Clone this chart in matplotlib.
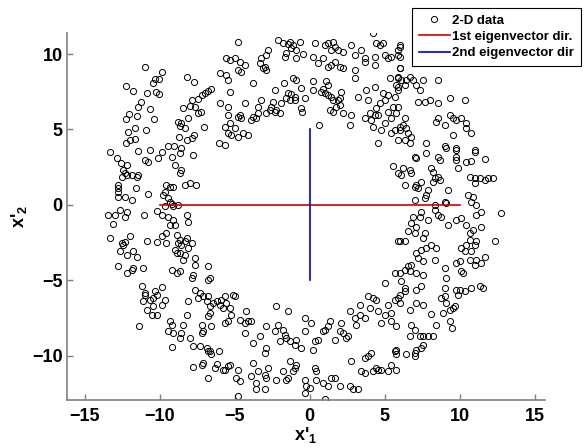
import numpy as np
import matplotlib
matplotlib.use("Agg")
import matplotlib.pyplot as plt

plt.rcParams['font.family'] = ['Liberation Sans', 'DejaVu Sans']
plt.rcParams['mathtext.fontset'] = 'custom'
plt.rcParams['mathtext.bf'] = 'Liberation Sans:bold'
plt.rcParams['mathtext.rm'] = 'Liberation Sans:bold'

# 2-D data points (x'1, x'2)
top_left = [
    (-11.0, 9.12), (-9.89, 8.79), (-10.33, 8.35), (-10.04, 8.37), (-10.44, 8.06), (-12.29, 7.88),
    (-11.78, 7.55), (-10.87, 7.44), (-10.27, 7.51), (-10.04, 7.33), (-11.29, 6.85), (-11.44, 6.47),
    (-10.67, 6.34), (-12.07, 6.03), (-11.56, 5.9), (-12.29, 5.68), (-10.42, 5.68), (-11.67, 5.08),
    (-10.96, 4.97), (-12.16, 4.86), (-12.29, 4.09), (-12.0, 4.31), (-11.67, 4.35),
    (-8.18, 8.48), (-7.73, 8.17), (-6.56, 7.66), (-6.78, 7.58), (-7.0, 7.4), (-7.22, 7.29),
    (-7.89, 6.96), (-7.44, 7.0), (-8.44, 6.4), (-8.0, 6.56), (-7.67, 6.52), (-7.29, 6.18),
    (-7.49, 6.08), (-8.11, 5.74), (-8.78, 5.52), (-8.56, 5.41), (-8.67, 5.24), (-8.33, 5.08),
    (-7.07, 5.19), (-8.73, 4.53), (-8.16, 4.31), (-7.71, 4.64), (-7.89, 4.42), (-9.44, 3.87),
    (-9.04, 3.87), (-8.62, 3.76),
    (-5.62, 9.72), (-5.96, 8.72), (-5.56, 8.61), (-5.44, 8.28), (-5.33, 7.51), (-5.96, 6.74),
    (-5.44, 6.52), (-5.44, 5.96), (-5.67, 5.19), (-5.44, 4.75), (-6.07, 4.13), (-5.67, 3.98),
]

top_mid = [
    (-4.78, 10.82), (-2.11, 10.93), (-1.78, 10.71), (-1.34, 10.82), (-1.11, 10.6), (-0.67, 10.82),
    (-0.89, 10.27), (-1.56, 10.05), (-1.67, 9.83), (-0.89, 9.72), (-0.45, 10.0), (-1.23, 10.38),
    (-1.45, 10.67), (-2.78, 10.27), (-2.89, 9.94), (-3.23, 9.72), (-3.34, 9.39), (-3.0, 9.17),
    (-2.89, 8.94), (-3.11, 9.05), (-4.34, 9.28), (-4.67, 9.5), (-5.0, 9.72), (-5.34, 9.61),
    (-4.78, 8.94), (-4.56, 8.83), (0.33, 10.71), (1.0, 10.6), (1.22, 10.71), (1.55, 10.82),
    (1.66, 10.49), (2.22, 10.16), (1.89, 10.27), (1.44, 10.27), (0.22, 9.83), (0.89, 9.72),
    (0.55, 9.39), (1.66, 9.5), (1.44, 9.28), (2.0, 9.17), (2.22, 9.05), (1.22, 9.17),
    (2.77, 10.6), (3.44, 10.27), (3.0, 9.94), (3.66, 9.72), (3.66, 9.5), (4.22, 11.37),
    (4.44, 10.71), (4.66, 10.6), (4.88, 10.71), (4.33, 9.83), (4.33, 9.28), (5.0, 9.94),
    (5.22, 9.72), (5.44, 9.83), (5.89, 9.94), (6.0, 10.49), (5.33, 8.39), (5.89, 8.39),
    (6.0, 9.05), (5.77, 7.95), (3.0, 8.94), (3.0, 8.39),
    (-3.78, 8.11), (-2.34, 7.62), (-1.71, 8.11), (-1.11, 8.39), (-0.89, 8.28), (-0.6, 7.73),
    (0.22, 8.22), (1.11, 8.24), (1.22, 7.95), (0.89, 7.66), (0.77, 7.51), (1.0, 7.4),
    (1.22, 7.29), (1.44, 7.18), (1.55, 6.96), (1.89, 6.96), (2.0, 6.63), (1.77, 6.52),
    (2.11, 7.51), (2.0, 7.07), (2.22, 6.08), (1.55, 6.19), (1.33, 6.3), (-0.56, 6.41),
    (-0.49, 6.19), (-0.96, 7.18), (-1.0, 6.96), (-1.34, 6.96), (-1.23, 7.33), (-1.45, 7.4),
    (-1.56, 7.07), (-1.89, 6.74), (-2.0, 6.08), (-2.23, 6.3), (-2.45, 6.85), (-2.56, 6.52),
    (-2.67, 6.3), (-2.34, 6.19), (-2.89, 6.08), (-3.23, 6.96), (-3.45, 6.52), (-3.45, 6.08),
    (-3.56, 5.74), (-3.78, 5.85), (-3.89, 5.63), (-4.34, 6.74), (-4.67, 5.96), (-4.56, 5.74),
    (-4.78, 5.85), (-5.0, 5.08), (-5.34, 5.41), (-4.78, 4.53), (-4.45, 4.75), (-4.12, 4.64),
    (-5.23, 4.64), (-0.29, 7.11), (0.22, 7.62), (0.62, 5.28), (2.77, 5.96), (2.66, 5.3),
    (3.22, 7.18), (3.77, 7.62), (3.88, 6.96), (4.0, 6.08), (3.66, 5.74), (4.11, 5.63),
    (4.33, 5.96), (4.22, 5.19), (4.44, 6.41), (4.66, 6.74), (4.55, 5.96), (4.77, 4.97),
    (5.0, 5.41), (5.22, 6.19), (5.44, 5.74), (5.55, 6.52), (5.0, 6.96), (5.66, 4.97),
    (5.44, 4.75), (5.89, 4.31), (6.0, 5.19), (4.55, 4.09), (5.22, 7.29), (4.88, 7.4),
    (4.33, 7.84), (5.66, 7.18), (5.89, 7.62),
]

top_right = [
    (6.0, 10.6), (5.89, 10.27), (6.0, 9.83), (6.0, 9.05), (5.89, 8.5), (6.11, 8.28),
    (6.45, 8.28), (6.67, 8.5), (6.89, 8.28), (7.11, 7.95), (7.56, 8.28), (8.56, 8.28),
    (7.34, 7.62), (5.89, 7.84), (6.34, 7.95), (7.23, 6.85), (7.67, 6.85), (8.0, 6.96),
    (8.56, 6.74), (9.34, 7.07), (10.34, 6.96), (5.89, 6.52), (5.78, 6.08), (6.34, 5.74),
    (6.23, 5.3), (6.45, 5.08), (6.0, 4.97), (6.56, 4.75), (6.78, 4.53), (6.34, 4.31),
    (6.67, 4.09), (7.78, 4.09), (8.56, 5.74), (8.45, 5.52), (9.0, 5.3), (9.34, 5.96),
    (9.56, 5.74), (9.78, 5.63), (10.11, 5.74), (10.45, 5.41), (10.45, 5.08), (10.78, 4.75),
    (9.56, 4.64), (9.0, 3.87), (9.78, 3.76), (11.0, 3.65),
]

mid_left = [
    (-13.33, 3.53), (-12.89, 3.09), (-12.6, 2.76), (-12.22, 2.65), (-12.44, 2.31), (-12.33, 2.09),
    (-12.56, 1.87), (-12.22, 1.98), (-11.89, 1.98), (-11.44, 1.98), (-11.56, 1.87), (-12.78, 1.32),
    (-12.78, 1.1), (-12.82, 0.88), (-12.78, 0.55), (-12.33, 0.55), (-11.89, 0.33), (-11.62, 1.14),
    (-11.44, 3.57), (-10.67, 3.64), (-11.0, 2.98), (-10.78, 2.87), (-10.11, 3.09), (-9.89, 3.48),
    (-9.22, 3.2), (-8.67, 3.42), (-9.0, 2.65), (-8.56, 2.31), (-8.67, 2.09), (-7.78, 3.31),
    (-8.33, 1.32), (-8.0, 1.48), (-7.56, 1.32), (-10.78, 0.7), (-9.56, 1.32), (-9.33, 1.21),
    (-9.11, 1.21), (-9.67, 0.88), (-9.78, 0.66), (-9.44, 0.44), (-9.33, 0.22), (-9.22, 0.04),
    (-9.67, -0.11), (-9.11, -0.11), (-8.78, 0.0), (-10.22, -0.4), (-9.89, -0.67), (-9.44, -0.84),
    (-9.11, -1.0), (-9.33, -1.33), (-9.0, -1.33), (-8.22, -0.67), (-8.11, -1.11), (-11.04, -0.67),
    (-13.44, -0.67), (-13.0, -0.67), (-13.11, -1.26), (-12.67, -0.33), (-12.22, -0.45), (-12.33, -0.78),
    (-13.33, -2.21), (-12.56, -2.54), (-12.44, -2.65), (-12.33, -2.48), (-12.0, -2.1), (-12.67, -3.05),
    (-12.22, -3.31), (-11.78, -3.09), (-11.56, -3.43), (-12.78, -4.09), (-12.22, -4.53), (-11.89, -4.31),
    (-11.78, -4.2), (-11.11, -4.2), (-10.89, -2.43), (-10.22, -2.5), (-9.89, -2.1), (-9.56, -1.88),
    (-9.56, -2.54), (-8.89, -1.99), (-8.67, -2.32), (-8.78, -2.54), (-8.56, -2.65), (-8.33, -2.43),
    (-8.22, -2.21), (-7.89, -2.54), (-9.0, -2.98), (-8.89, -3.2), (-8.67, -3.2), (-8.44, -3.65),
    (-8.33, -3.31), (-8.11, -2.87), (-7.67, -3.53), (-7.67, -3.98), (-7.78, -4.64), (-7.84, -4.86),
    (-8.67, -4.42), (-8.89, -4.53), (-9.22, -4.31), (-6.78, -4.09), (-6.78, -4.97), (-6.67, -4.86),
    (-7.67, -5.63), (-7.33, -5.85), (-11.22, -5.37), (-11.0, -5.85), (-9.89, -5.48), (-10.33, -5.74),
]

mid_right = [
    (5.55, 2.6), (5.89, 2.09), (5.89, -2.43), (5.66, -4.53), (5.04, -5.19),
    (7.0, 3.2), (7.11, 3.09), (7.78, 3.42), (8.56, 3.2), (8.67, 2.98), (9.11, 3.75),
    (9.78, 3.64), (9.78, 3.2), (9.78, 2.98), (9.89, 2.42), (11.0, 3.53), (10.45, 2.87),
    (10.78, 2.91), (11.67, 3.04), (6.23, 2.42), (6.67, 2.31), (6.11, 1.98), (6.78, 2.09),
    (6.34, 1.32), (7.0, 1.21), (7.23, 1.1), (7.11, 1.32), (7.45, 1.54), (8.11, 2.42),
    (8.23, 2.2), (8.34, 1.76), (8.23, 1.54), (8.56, 1.87), (8.67, 1.65), (7.89, 0.99),
    (7.78, 0.66), (7.67, 0.44), (7.0, 0.33), (9.0, 0.22), (9.11, 0.11), (8.34, 0.0),
    (9.23, 0.99), (10.56, 0.66), (10.89, 0.55), (10.78, 0.22), (11.11, 0.0), (11.11, -0.67),
    (11.45, -0.45), (10.67, 1.87), (11.0, 1.76), (11.0, 1.43), (11.34, 1.76), (11.67, 1.65),
    (11.89, 1.76), (12.23, 1.76), (12.78, -0.56), (6.89, -0.78), (7.45, -0.45), (7.34, -0.78),
    (7.89, -1.0), (8.34, -0.33), (8.56, -0.67), (8.78, -0.78), (9.23, -1.33), (9.78, -1.0),
    (10.11, -0.89), (10.45, -1.33), (10.89, -1.66), (10.67, -1.88), (11.45, -1.44), (11.11, -2.43),
    (10.67, -2.32), (11.0, -2.65), (10.11, -2.87), (10.45, -2.65), (10.34, -3.09), (10.78, -3.09),
    (11.11, -3.65), (10.67, -3.65), (11.67, -3.43), (11.45, -3.87), (11.0, -3.98), (10.0, -3.76),
    (9.78, -3.87), (12.34, -2.43), (6.78, -1.22), (7.11, -1.44), (7.0, -1.88), (6.56, -1.77),
    (6.34, -2.43), (6.0, -2.43), (7.67, -1.88), (7.56, -2.21), (8.11, -2.65), (8.45, -2.87),
    (7.78, -2.87), (7.45, -2.98), (7.11, -3.2), (7.23, -3.53), (7.56, -3.76), (8.34, -3.65),
    (9.0, -4.2), (9.11, -4.86), (6.78, -3.98), (6.56, -4.09), (6.34, -4.31), (6.0, -4.53),
    (6.67, -4.42), (7.11, -4.53), (7.56, -4.64), (6.34, -5.52), (7.11, -5.63), (7.45, -5.41),
    (9.0, -5.52), (9.78, -5.63), (10.0, -5.63), (10.78, -5.52), (11.34, -5.41), (11.56, -5.52),
    (10.11, -4.42), (10.23, -4.53), (6.11, -5.08),
]

bottom_left = [
    (-11.0, -5.96), (-11.11, -6.4), (-10.67, -6.29), (-10.44, -6.18), (-10.22, -5.96), (-10.44, -6.73),
    (-10.89, -6.95), (-10.56, -7.29), (-10.22, -7.29), (-9.89, -6.62), (-9.67, -6.34), (-11.4, -8.01),
    (-9.33, -7.73), (-9.22, -7.95), (-9.44, -8.39), (-9.11, -8.5), (-8.56, -8.5), (-8.67, -8.83),
    (-8.44, -7.95), (-8.22, -7.29), (-8.11, -6.4), (-7.44, -6.18), (-7.11, -6.07), (-6.78, -6.07),
    (-6.89, -6.4), (-6.67, -6.73), (-6.67, -7.18), (-6.78, -7.4), (-6.44, -6.51), (-6.22, -6.4),
    (-6.0, -6.62), (-5.89, -6.29), (-5.78, -6.84), (-5.56, -6.51), (-5.67, -7.84), (-5.44, -7.73),
    (-7.22, -7.95), (-7.11, -8.39), (-7.22, -8.5), (-6.56, -8.01), (-8.0, -8.83), (-7.78, -9.38),
    (-7.33, -9.38), (-6.89, -9.49), (-6.78, -9.71), (-6.67, -9.71), (-6.56, -9.93), (-6.07, -9.67),
    (-9.16, -9.43), (-7.78, -10.75), (-7.22, -10.6), (-7.11, -10.49), (-6.78, -11.48), (-6.33, -10.82),
    (-6.22, -10.53), (-5.78, -10.93), (-5.67, -10.97), (-5.44, -10.71),
]

bottom_mid = [
    (-5.67, -6.07), (-5.34, -6.84), (-5.11, -5.96), (-5.0, -6.07), (-5.23, -7.29), (-4.67, -7.62),
    (-4.34, -7.84), (-4.12, -7.73), (-4.23, -7.07), (-3.89, -7.73), (-4.34, -8.5), (-2.23, -6.73),
    (-1.45, -7.07), (-0.34, -7.51), (0.11, -7.84), (-2.89, -8.06), (-3.34, -8.72), (-3.78, -9.16),
    (-2.34, -8.39), (-2.11, -7.95), (-1.78, -8.28), (-1.67, -8.61), (-1.56, -8.83), (-2.0, -9.05),
    (-1.34, -9.05), (-0.89, -8.94), (-1.0, -9.27), (-0.56, -9.49), (-2.89, -9.49), (-3.0, -9.82),
    (-0.34, -8.39), (0.22, -9.6), (0.33, -9.05), (0.55, -8.94), (0.89, -8.39), (1.0, -8.28),
    (1.33, -7.73), (1.22, -8.06), (1.66, -8.94), (2.0, -8.39), (2.22, -8.5), (2.44, -8.83),
    (2.55, -8.72), (2.11, -7.84), (2.66, -7.07), (3.0, -7.51), (3.11, -7.95), (3.33, -7.29),
    (3.33, -6.62), (3.66, -7.51), (3.88, -6.07), (4.22, -6.18), (4.44, -6.29), (4.0, -6.84),
    (4.55, -7.07), (4.77, -7.84), (5.0, -7.29), (5.44, -7.18), (5.44, -7.73), (5.22, -6.62),
    (5.66, -6.29), (6.0, -5.96), (5.66, -9.71), (4.11, -9.82), (3.88, -10.04), (3.66, -10.16),
    (2.77, -10.38), (3.44, -11.04), (3.66, -11.15), (4.22, -11.04), (4.44, -10.82), (4.55, -10.93),
    (4.77, -10.93), (5.22, -11.04), (5.44, -10.6), (5.77, -10.93),
    (-5.34, -10.6), (-4.78, -10.93), (-4.89, -11.48), (-4.67, -11.7), (-3.78, -10.49), (-3.56, -11.81),
    (-3.45, -11.04), (-3.89, -11.37), (-3.0, -11.26), (-2.89, -11.48), (-2.78, -10.82), (-2.23, -11.59),
    (-1.78, -11.04), (-1.56, -11.59), (-1.45, -11.48), (-1.34, -10.38), (-1.0, -10.82), (-0.89, -10.6),
    (-1.12, -11.04), (-3.0, -12.25), (-3.56, -12.25), (-0.34, -11.59), (-0.23, -12.03), (-0.34, -12.47),
    (0.0, -12.14), (0.33, -10.82), (0.44, -11.04), (0.44, -11.59), (0.89, -11.81), (1.22, -12.03),
    (1.44, -11.48), (1.66, -11.48), (2.0, -12.03), (1.0, -12.91), (2.66, -12.03), (2.89, -12.25),
    (3.22, -12.25), (-4.78, -12.69),
]

bottom_right = [
    (5.89, -6.18), (6.34, -5.74), (6.0, -6.51), (6.67, -6.95), (7.11, -6.51), (7.56, -6.62),
    (8.11, -7.22), (8.45, -7.95), (8.78, -6.18), (9.0, -6.07), (9.11, -6.51), (8.89, -7.18),
    (9.34, -6.95), (9.56, -6.84), (9.67, -6.73), (9.89, -5.96), (10.34, -5.74), (9.34, -7.73),
    (9.49, -8.17), (6.74, -7.95), (7.0, -8.28), (6.67, -8.72), (7.34, -8.72), (7.56, -8.72),
    (7.89, -8.72), (8.23, -8.72), (7.56, -9.27), (7.45, -9.49), (7.11, -9.6), (7.0, -9.82),
    (6.45, -9.93), (7.0, -10.04), (5.78, -9.6), (5.78, -9.93), (5.78, -8.06),
]

# eigenvector directions (scaled)
eig1_x = [-10, 10]
eig1_y = [0, 0]
eig2_x = [0, 0]
eig2_y = [-5, 5]

pts = np.array(top_left + top_mid + top_right + mid_left + mid_right
               + bottom_left + bottom_mid + bottom_right)

fig = plt.figure(figsize=(5.85, 4.48), dpi=100)
ax = fig.add_axes([67 / 585, 48 / 448, 478 / 585, 367 / 448])

ax.plot(pts[:, 0], pts[:, 1], 'o', mfc='none', mec='black', ms=4.4, mew=0.7, label='2-D data')
ax.plot(eig1_x, eig1_y, '-', color='#d00000', lw=1.2, label='1st eigenvector dir.')
ax.plot(eig2_x, eig2_y, '-', color='#0000c8', lw=1.2, label='2nd eigenvector dir')

ax.set_xlim(-16.2, 15.7)
ax.set_ylim(-12.95, 11.4)
ax.set_xticks([-15, -10, -5, 0, 5, 10, 15])
ax.set_yticks([-10, -5, 0, 5, 10])

for s in ['top', 'right']:
    ax.spines[s].set_visible(False)
for s in ['left', 'bottom']:
    ax.spines[s].set_color('#808080')
    ax.spines[s].set_linewidth(1.2)
ax.tick_params(direction='in', length=4, color='#808080', width=1)
ax.tick_params(axis='x', pad=6)
ax.tick_params(axis='y', pad=3)
for lab in ax.get_xticklabels() + ax.get_yticklabels():
    lab.set_fontweight('bold')
    lab.set_fontsize(13)

ax.set_xlabel(r"x'$_{\mathbf{1}}$", fontsize=13, fontweight='bold', labelpad=0)
ax.set_ylabel(r"x'$_{\mathbf{2}}$", fontsize=13, fontweight='bold', labelpad=2)

leg = fig.legend(loc='upper left', bbox_to_anchor=(412 / 585, 1 - 8 / 448),
                 frameon=True, fancybox=False, framealpha=1, edgecolor='black',
                 prop={'weight': 'bold', 'size': 9.5}, handlelength=2.4,
                 handletextpad=0.15, borderpad=0.5, labelspacing=0.3, borderaxespad=0)
leg.get_frame().set_linewidth(0.8)

fig.savefig('out.png', dpi=100)
